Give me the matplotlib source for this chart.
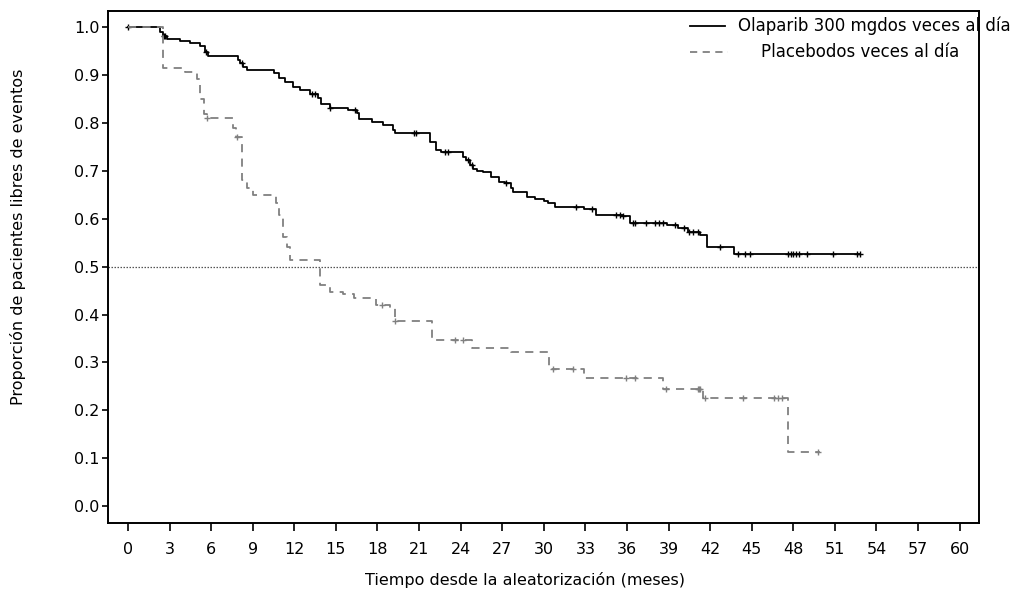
import matplotlib
matplotlib.use("Agg")
import matplotlib.pyplot as plt
from matplotlib.lines import Line2D

# Kaplan-Meier step data: event times (months) and survival after each step
olaparib_t = [0, 2.3, 2.5, 2.8, 3.75, 4.47, 5.2, 5.56, 5.8, 7.96, 8.1, 8.3, 8.6,
              10.5, 10.9, 11.3, 11.9, 12.4, 13.1, 13.7, 13.9, 14.6, 15.9, 16.5,
              16.7, 17.6, 18.4, 19.1, 19.3, 21.8, 22.2, 22.6, 24.2, 24.4, 24.7,
              24.9, 25.2, 25.6, 26.2, 26.8, 27.2, 27.6, 27.8, 28.8, 29.4, 30.0,
              30.3, 30.8, 32.9, 33.8, 35.7, 36.2, 38.9, 39.7, 40.4, 41.3, 41.8,
              43.7]
olaparib_s = [1.0, 0.99, 0.983, 0.975, 0.972, 0.967, 0.962, 0.949, 0.940, 0.932,
              0.925, 0.918, 0.911, 0.904, 0.894, 0.887, 0.875, 0.869, 0.862,
              0.852, 0.840, 0.831, 0.828, 0.821, 0.808, 0.803, 0.796, 0.786,
              0.779, 0.760, 0.745, 0.740, 0.730, 0.723, 0.713, 0.704, 0.701,
              0.697, 0.687, 0.678, 0.674, 0.664, 0.657, 0.646, 0.641, 0.637,
              0.633, 0.624, 0.620, 0.608, 0.605, 0.592, 0.587, 0.580, 0.573,
              0.566, 0.541, 0.526]
olaparib_end = 52.8
olaparib_cens = [0, 2.6, 2.7, 5.6, 8.2, 13.3, 13.5, 14.6, 16.4, 20.6, 20.8,
                 22.9, 23.1, 24.5, 24.8, 27.3, 32.3, 33.5, 35.2, 35.5, 35.7,
                 36.4, 36.6, 37.4, 38.0, 38.3, 38.6, 39.5, 40.1, 40.5, 40.8,
                 41.1, 42.7, 44.0, 44.5, 44.9, 47.6, 47.8, 48.0, 48.2, 48.4,
                 49.0, 50.9, 52.6, 52.8]

placebo_t = [0, 2.5, 4.1, 4.95, 5.2, 5.5, 5.7, 7.6, 7.8, 8.2, 8.6, 9.0, 10.7,
             10.9, 11.2, 11.5, 11.7, 13.85, 14.6, 15.5, 16.3, 17.9, 18.9, 19.3,
             21.9, 24.8, 27.6, 30.4, 32.9, 38.6, 41.5, 47.6]
placebo_s = [1.0, 0.915, 0.908, 0.892, 0.85, 0.82, 0.810, 0.789, 0.772, 0.681,
             0.664, 0.650, 0.634, 0.608, 0.563, 0.542, 0.514, 0.462, 0.448,
             0.444, 0.434, 0.420, 0.413, 0.387, 0.347, 0.331, 0.321, 0.286,
             0.268, 0.245, 0.226, 0.112]
placebo_end = 49.9
placebo_cens = [5.7, 7.9, 18.3, 19.3, 23.6, 24.2, 30.7, 32.1, 35.9, 36.6,
                38.8, 41.1, 41.2, 41.3, 41.6, 44.4, 46.6, 46.9, 47.2, 49.8]

x_ticks = list(range(0, 61, 3))
y_ticks = [0.0, 0.1, 0.2, 0.3, 0.4, 0.5, 0.6, 0.7, 0.8, 0.9, 1.0]
label_olap = "Olaparib 300 mgdos veces al día"
label_plac = "Placebodos veces al día"
x_label = "Tiempo desde la aleatorización (meses)"
y_label = "Proporción de pacientes libres de eventos"

plt.rcParams["font.family"] = ["DejaVu Sans"]
FS = 11.5


def step_value(times, surv, t):
    v = surv[0]
    for ti, si in zip(times, surv):
        if ti <= t:
            v = si
    return v


fig = plt.figure(figsize=(10.23, 5.97), dpi=100)
ax = fig.add_axes([0.1056, 0.124, 0.8514, 0.8576])

olap_x = olaparib_t + [olaparib_end]
olap_y = olaparib_s + [olaparib_s[-1]]
ax.step(olap_x, olap_y, where="post", color="black", lw=1.3)
ax.plot(olaparib_cens, [step_value(olaparib_t, olaparib_s, t) for t in olaparib_cens],
        ls="none", marker="+", ms=4, mew=1.0, color="black")

plac_x = placebo_t + [placebo_end]
plac_y = placebo_s + [placebo_s[-1]]
ax.step(plac_x, plac_y, where="post", color="#808080", lw=1.3,
        dashes=(4.5, 3.5))
ax.plot(placebo_cens, [step_value(placebo_t, placebo_s, t) for t in placebo_cens],
        ls="none", marker="+", ms=4, mew=1.0, color="#808080")

ax.axhline(0.5, color="#555555", lw=0.9, ls=(0, (1.2, 1.2)))

ax.set_xlim(-1.44, 61.4)
ax.set_ylim(-0.0355, 1.0345)
ax.set_xticks(x_ticks)
ax.set_xticklabels([str(v) for v in x_ticks])
ax.set_yticks(y_ticks)
ax.set_yticklabels([f"{v:.1f}" for v in y_ticks])
ax.tick_params(axis="x", length=6, width=1.2, pad=8, labelsize=FS, colors="black")
ax.tick_params(axis="y", length=4, width=1.2, pad=2, labelsize=FS, colors="black")
for sp in ax.spines.values():
    sp.set_linewidth(1.4)

W, H = 1023, 597
fig.text(18 / W, 1 - 237 / H, y_label, rotation=90, ha="center", va="center", fontsize=FS)
fig.text(525 / W, 1 - 580 / H, x_label, ha="center", va="center", fontsize=FS)

# legend drawn in figure coordinates, overlapping the frame edge
fig.add_artist(Line2D([690 / W, 725 / W], [1 - 26 / H, 1 - 26 / H], color="black", lw=1.3))
fig.add_artist(Line2D([690 / W, 728 / W], [1 - 52 / H, 1 - 52 / H], color="#808080",
                      lw=1.3, dashes=(4, 3)))
fig.text(738 / W, 1 - 26 / H, label_olap, ha="left", va="center", fontsize=12)
fig.text(761 / W, 1 - 52 / H, label_plac, ha="left", va="center", fontsize=12)

fig.savefig("out.png", dpi=100)
